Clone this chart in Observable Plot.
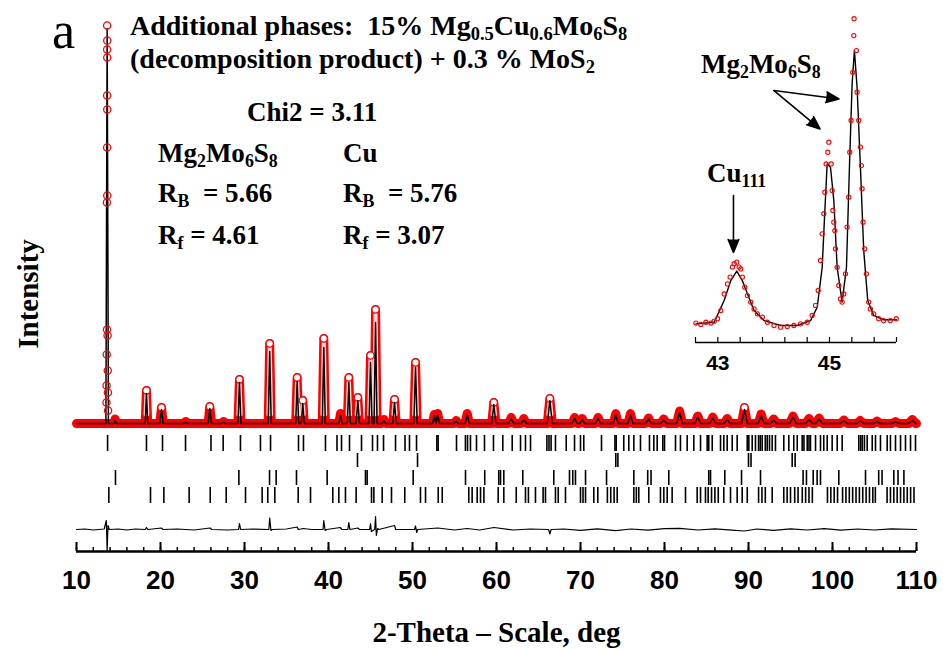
<!DOCTYPE html>
<html><head><meta charset="utf-8">
<script src="https://cdn.jsdelivr.net/npm/d3@7"></script>
<script src="https://cdn.jsdelivr.net/npm/@observablehq/plot@0.6"></script>
<style>
body{margin:0;background:#fff;}
#wrap{position:relative;width:943px;height:649px;overflow:hidden;background:#fff;}
#wrap svg{position:absolute;}
.t{position:absolute;font-family:"Liberation Serif","Times New Roman",serif;font-weight:bold;font-size:27px;color:#000;white-space:nowrap;line-height:1;}
.t sub{font-size:0.66em;vertical-align:-0.28em;line-height:0;}
</style></head><body><div id="wrap"></div>
<script>
// ---------------- data ----------------
// Peaks of the main pattern (2-theta in deg, observed and calculated heights above background, half base width in deg)
const peakPos  = [14.6,18.33,20.12,23.0,25.87,27.5,29.4,33.0,36.27,36.94,39.44,41.43,42.42,43.49,45.0,45.6,46.6,47.86,50.36,52.6,53.0,55.2,56.51,59.68,61.75,63.25,66.35,69.3,70.2,72.1,74.2,75.95,78.1,79.9,81.8,83.96,85.75,87.46,89.52,91.5,93.0,95.3,97.2,98.4,101.35,103.3,105.3,107.5,109.5];
const peakObs  = [45,330,160,20,170,20,440,800,460,230,850,100,460,260,680,1140,40,240,610,90,100,30,100,210,60,50,250,60,50,60,100,100,55,45,125,75,65,50,160,95,45,75,50,55,35,30,25,20,40];
const peakCalc = [35,300,140,15,150,15,410,720,420,200,760,80,410,230,610,1010,30,210,560,80,85,25,85,190,50,40,230,50,40,50,85,85,45,35,110,65,55,40,140,80,35,65,40,45,28,25,20,15,30];
const peakHW   = [0.15,0.15,0.2,0.2,0.2,0.2,0.18,0.18,0.18,0.18,0.18,0.2,0.18,0.2,0.18,0.18,0.2,0.2,0.2,0.22,0.22,0.25,0.25,0.25,0.3,0.3,0.3,0.3,0.3,0.3,0.3,0.3,0.35,0.35,0.35,0.35,0.35,0.35,0.35,0.35,0.35,0.4,0.4,0.4,0.4,0.4,0.4,0.4,0.4];
// strongest reflection (13.65 deg): calculated top and the observed points on it
const mainPeakPos = 13.65, mainPeakCalc = 3950, mainPeakHW = 0.15;
const mainPeakObsX = [13.65,13.66,13.65,13.66,13.65,13.66,13.65,13.66,13.62,13.63,13.7,13.6,13.72,13.58,13.74,13.57,13.76];
const mainPeakObsY = [3980,3830,3740,3660,3280,3140,2760,2280,2210,940,880,690,530,380,310,210,130];
// difference curve (obs - calc)
const diffX = [10,11,12,13.3,13.55,13.65,13.75,13.9,15,16,17,18.2,18.33,18.5,20.1,20.3,22,24,25.9,26.1,28,29.3,29.4,29.55,31,32.9,33.0,33.15,33.3,35,36.27,36.4,37,38,39.35,39.44,39.6,39.8,41.4,41.6,42.3,42.42,42.55,43.5,43.7,44.9,45.0,45.1,45.5,45.6,45.7,45.85,46.0,47.86,48.0,50.25,50.36,50.5,50.6,53,55,56.5,58,59.7,62,64,66.2,66.35,66.5,68,70,72,74.2,76,78,80,81.8,84,86,88,89.5,91,93,95,97,99,101,103,105,107,110];
const diffY = [0,5,-5,5,90,-210,40,0,5,-5,5,0,20,0,15,0,5,-5,15,0,-5,0,60,0,5,0,115,-10,0,5,25,0,10,0,0,90,-10,0,20,0,0,70,0,15,0,0,60,-20,0,130,-60,10,0,40,0,0,35,-30,0,15,-5,10,-5,20,-5,5,0,-45,0,5,-8,6,-12,5,-6,8,12,-5,6,-6,-15,5,-8,6,-5,8,-6,5,-5,6,0];
// Bragg reflection positions of the four phases
const mg2mo6s8 = [13.7,18.33,20.24,22.98,26.01,27.46,29.52,31.9,33.1,36.43,37.02,39.64,41.01,41.55,42.5,43.93,45.24,45.83,46.55,47.98,49.11,49.64,50.48,52.9,53.05,55.24,56.3,56.55,56.9,57.62,58.57,59.64,60.75,61.87,62.86,63.45,64.05,66.0,66.25,66.5,67.02,68.3,69.29,70.0,70.39,72.5,74.1,74.25,75.15,75.75,76.35,77.14,78.21,78.73,79.13,79.8,80.0,81.31,81.9,82.7,83.49,84.29,85.08,85.27,85.68,86.67,87.06,87.46,88.06,88.65,89.85,90.04,90.44,90.83,91.2,91.4,91.63,92.0,92.23,92.5,92.82,93.21,94.2,94.8,95.39,95.8,96.39,96.6,96.99,97.2,97.38,97.98,98.57,98.96,99.37,99.96,100.56,101.15,103.13,103.35,103.54,103.8,104.13,104.73,105.12,105.71,106.51,106.9,107.5,108.1,108.69,109.29,109.88];
const cu = [43.45,50.6,74.2,74.45,90.0,90.3,95.2,95.55];
const mos2 = [14.64,29.33,32.98,33.77,36.19,39.84,44.4,44.6,50.08,56.31,58.6,60.27,60.48,60.87,63.13,66.82,68.69,69.08,69.4,70.6,73.1,76.35,78.0,78.4,80.51,85.27,85.48,87.18,89.17,91.43,96.5,96.9,97.7,98.17,98.57,100.75,103.93,105.5,105.9,107.3,107.8,108.5];
const mgcumo6s8 = [13.85,18.81,20.4,23.41,25.92,27.82,30.12,32.1,32.77,33.61,36.39,37.86,40.51,41.23,42.02,43.29,45.12,45.4,46.39,47.5,49.08,50.95,51.55,53.06,53.54,56.7,57.1,57.7,58.1,58.5,60.2,60.87,62.35,63.45,63.8,64.64,65.55,65.83,67.02,67.35,68.21,70.0,70.3,70.6,71.58,72.06,73.2,73.6,74.0,74.37,76.35,76.65,76.94,78.13,79.52,79.92,80.32,80.91,82.5,83.89,84.29,84.88,85.2,85.6,86.0,86.4,87.06,87.86,88.65,89.25,89.85,91.2,91.6,92.0,92.82,94.2,94.6,95.0,95.5,95.9,96.4,96.8,97.2,97.6,99.4,99.8,100.2,100.6,101.2,101.6,102.0,102.4,102.8,103.2,103.6,104.0,104.4,104.8,105.1,106.5,106.9,107.3,107.7,108.1,108.5,108.9,109.3,109.7];
// axis ticks
const xTickLabels = [10,20,30,40,50,60,70,80,90,100,110];
const xMinorTicks = [10,12,14,16,18,20,22,24,26,28,30,32,34,36,38,40,42,44,46,48,50,52,54,56,58,60,62,64,66,68,70,72,74,76,78,80,82,84,86,88,90,92,94,96,98,100,102,104,106,108,110];
// inset (42.6 - 46.2 deg)
const insetCalcX = [42.607,42.935,43.113,43.232,43.339,43.44,43.53,43.649,43.827,44.125,44.423,44.661,44.78,44.869,44.911,44.958,45.018,45.077,45.137,45.226,45.304,45.357,45.405,45.446,45.494,45.554,45.613,45.685,45.792,45.97,46.196];
const insetCalcY = [6,12,92,165,200,165,117,55,18,0,0,18,67,214,398,594,582,460,214,86,214,582,889,1011,876,582,276,92,37,21,21];
const insetObsX = [42.607,42.696,42.786,42.875,42.935,42.994,43.054,43.113,43.173,43.22,43.262,43.292,43.339,43.381,43.411,43.44,43.482,43.53,43.589,43.649,43.708,43.798,43.887,44.006,44.125,44.244,44.363,44.482,44.601,44.69,44.75,44.798,44.839,44.869,44.899,44.917,44.94,44.97,44.988,45.03,45.048,45.06,45.077,45.095,45.107,45.137,45.167,45.196,45.226,45.256,45.286,45.315,45.345,45.363,45.387,45.417,45.435,45.44,45.482,45.494,45.524,45.554,45.571,45.583,45.601,45.631,45.661,45.702,45.732,45.792,45.881,45.97,46.089,46.196];
const insetObsY = [9,4,12,9,16,25,55,116,153,178,215,227,233,215,208,178,141,110,86,61,43,31,12,0,-6,-4,0,6,12,37,74,129,239,337,411,490,594,637,674,594,496,423,380,349,282,214,147,98,86,116,190,362,472,637,754,931,1066,1128,1011,858,754,656,588,503,380,282,190,86,61,43,25,18,18,25];
const insetTicks = [42.6,43.0,43.4,43.8,44.2,44.6,45.0,45.4,45.8,46.2];
const insetTickLabels = [43,45];
const insetArrowX1 = [43.28,44.006,44.006], insetArrowY1 = [478,864,864];
const insetArrowX2 = [43.28,45.17,44.83],  insetArrowY2 = [269,833,723];

// ---------------- build tables ----------------
const peaks = peakPos.map((p,i)=>({pos:p,obs:peakObs[i],calc:peakCalc[i],hw:peakHW[i]}));
function profile(key, withMain){
  const pts=[{x:10,y:0},{x:110,y:0}];
  for(const p of peaks){pts.push({x:p.pos-p.hw,y:0},{x:p.pos,y:p[key]},{x:p.pos+p.hw,y:0});}
  if(withMain){pts.push({x:mainPeakPos-mainPeakHW,y:0},{x:mainPeakPos,y:mainPeakCalc},{x:mainPeakPos+mainPeakHW,y:0});}
  return pts.sort((a,b)=>a.x-b.x);
}
const obsLine = profile("obs", false);
const calcLine = profile("calc", true);
// hollow interior of the observed-point columns on the taller peaks
const START = 90;
const obsInner = peaks.filter(p=>p.obs>200).flatMap((p,i)=>[
  {k:i, x:p.pos-p.hw*(1-START/p.obs), y:START},
  {k:i, x:p.pos, y:p.obs},
  {k:i, x:p.pos+p.hw*(1-START/p.obs), y:START}]);
const mainObs = mainPeakObsX.map((x,i)=>({x, y: mainPeakObsY[i]}));
const diff = diffX.map((x,i)=>({x, d: diffY[i]}));
const insetCalc = insetCalcX.map((x,i)=>({x, y: insetCalcY[i]}));
const insetObs = insetObsX.map((x,i)=>({x, y: insetObsY[i]}));
const arrows = insetArrowX1.map((x1,i)=>({x1, y1: insetArrowY1[i], x2: insetArrowX2[i], y2: insetArrowY2[i]}));

// ---------------- main plot ----------------
const Y0 = -1280, DIFF0 = -1060;
const sans = "'Liberation Sans Narrow','Arial Narrow','Liberation Sans',Arial,sans-serif";
const serif = "'Liberation Serif','Times New Roman',serif";
const frameBottom = 649 - 98;
const main = Plot.plot({
  width: 943, height: 649, marginLeft: 76, marginRight: 27, marginTop: 0, marginBottom: 98,
  x: {domain: [10,110]},
  y: {domain: [Y0, 4230], axis: null},
  style: {background: "transparent", overflow: "visible"},
  marks: [
    Plot.line(obsLine, {x:"x", y:"y", stroke:"#ff0000", strokeWidth:9, strokeLinejoin:"round", strokeLinecap:"round"}),
    Plot.line(obsInner, {x:"x", y:"y", z:"k", stroke:"#ffd6d6", strokeWidth:4, strokeLinejoin:"round", strokeLinecap:"round"}),
    Plot.dot(peaks.filter(p=>p.obs>150), {x:"pos", y:"obs", r:3.6, stroke:"#ff0000", strokeWidth:1.3, fill:"white"}),
    Plot.line(calcLine, {x:"x", y:"y", stroke:"black", strokeWidth:1.5}),
    Plot.dot(mainObs, {x:"x", y:"y", r:3.6, stroke:"#ff0000", strokeWidth:1.3, fill:"none"}),
    Plot.ruleX(mg2mo6s8, {y1:-120, y2:-280, stroke:"black", strokeWidth:1.6}),
    Plot.ruleX(cu, {y1:-300, y2:-440, stroke:"black", strokeWidth:1.6}),
    Plot.ruleX(mos2, {y1:-470, y2:-620, stroke:"black", strokeWidth:1.6}),
    Plot.ruleX(mgcumo6s8, {y1:-640, y2:-800, stroke:"black", strokeWidth:1.6}),
    Plot.line(diff, {x:"x", y:d=>DIFF0+d.d, stroke:"black", strokeWidth:1.2}),
    Plot.ruleY([Y0], {x1:10, x2:110, stroke:"black", strokeWidth:2.5}),
    Plot.ruleX(xMinorTicks, {insetTop: frameBottom-4, stroke:"black", strokeWidth:1.5}),
    Plot.ruleX(xTickLabels, {insetTop: frameBottom-9, stroke:"black", strokeWidth:2}),
    Plot.axisX({ticks: xTickLabels, tickSize:0, tickPadding:19, label:null, fontSize:26, fontWeight:"bold", fontFamily:sans, fill:"black"}),
    Plot.text(["Intensity"], {frameAnchor:"left", textAnchor:"middle", lineAnchor:"middle", dx:-48, dy:18, rotate:-90, fontSize:29, fontWeight:"bold", fontFamily:serif, fill:"black"}),
    Plot.text(["2-Theta – Scale, deg"], {frameAnchor:"bottom", lineAnchor:"middle", dy:81, fontSize:29, fontWeight:"bold", fontFamily:serif, fill:"black"})
  ]
});
main.style.left = "0px"; main.style.top = "0px";

// ---------------- inset ----------------
const inset = Plot.plot({
  width: 230, height: 380, marginLeft: 15, marginRight: 14, marginTop: 0, marginBottom: 38,
  x: {domain: [42.6, 46.2]},
  y: {domain: [-62.5, 1195], axis: null},
  style: {background: "transparent", overflow: "visible"},
  marks: [
    Plot.line(insetCalc, {x:"x", y:"y", stroke:"black", strokeWidth:1.4}),
    Plot.dot(insetObs, {x:"x", y:"y", r:2.1, stroke:"#ff0000", strokeWidth:1.1, fill:"none"}),
    Plot.ruleY([-62.5], {stroke:"black", strokeWidth:1.6}),
    Plot.ruleX(insetTicks, {insetTop: 342-5, stroke:"black", strokeWidth:1.2}),
    Plot.axisX({ticks: insetTickLabels, tickFormat: d => String(d), tickSize:0, tickPadding:13, label:null, fontSize:21, fontWeight:"bold", fontFamily:"'Liberation Sans',Arial,sans-serif", fill:"black"}),
    Plot.arrow(arrows, {x1:"x1", y1:"y1", x2:"x2", y2:"y2", stroke:"black", fill:"black", strokeWidth:1.6, headLength:13, headAngle:45})
  ]
});
inset.style.left = "680px"; inset.style.top = "0px";

const wrap = document.getElementById("wrap");
wrap.appendChild(main);
wrap.appendChild(inset);

// ---------------- text annotations ----------------
const labels = [
  {html:"a", left:52, base:49, size:52, weight:"normal", lh:0.7},
  {html:"Additional phases:&nbsp; 15% Mg<sub>0.5</sub>Cu<sub>0.6</sub>Mo<sub>6</sub>S<sub>8</sub>", left:130, base:35, size:28},
  {html:"(decomposition product) + 0.3 % MoS<sub>2</sub>", left:130, base:68, size:28},
  {html:"Chi2 = 3.11", left:247, base:122},
  {html:"Mg<sub>2</sub>Mo<sub>6</sub>S<sub>8</sub>", left:158, base:163},
  {html:"Cu", left:343, base:163},
  {html:"R<sub>B</sub>&nbsp;&nbsp;= 5.66", left:158, base:203},
  {html:"R<sub>B</sub>&nbsp;&nbsp;= 5.76", left:343, base:203},
  {html:"R<sub>f</sub> = 4.61", left:158, base:245},
  {html:"R<sub>f</sub> = 3.07", left:343, base:245},
  {html:"Mg<sub>2</sub>Mo<sub>6</sub>S<sub>8</sub>", left:701, base:74, size:27},
  {html:"Cu<sub>111</sub>", left:707, base:183}
];
for(const l of labels){
  const d = document.createElement("div");
  d.className = "t";
  const s = l.size || 27;
  const lh = l.lh || 1;
  d.style.fontSize = s + "px";
  d.style.lineHeight = lh;
  if(l.weight) d.style.fontWeight = l.weight;
  d.style.left = l.left + "px";
  d.style.top = (l.base - s*(lh/2 + 0.3375)) + "px";
  d.innerHTML = l.html;
  wrap.appendChild(d);
}
</script></body></html>
